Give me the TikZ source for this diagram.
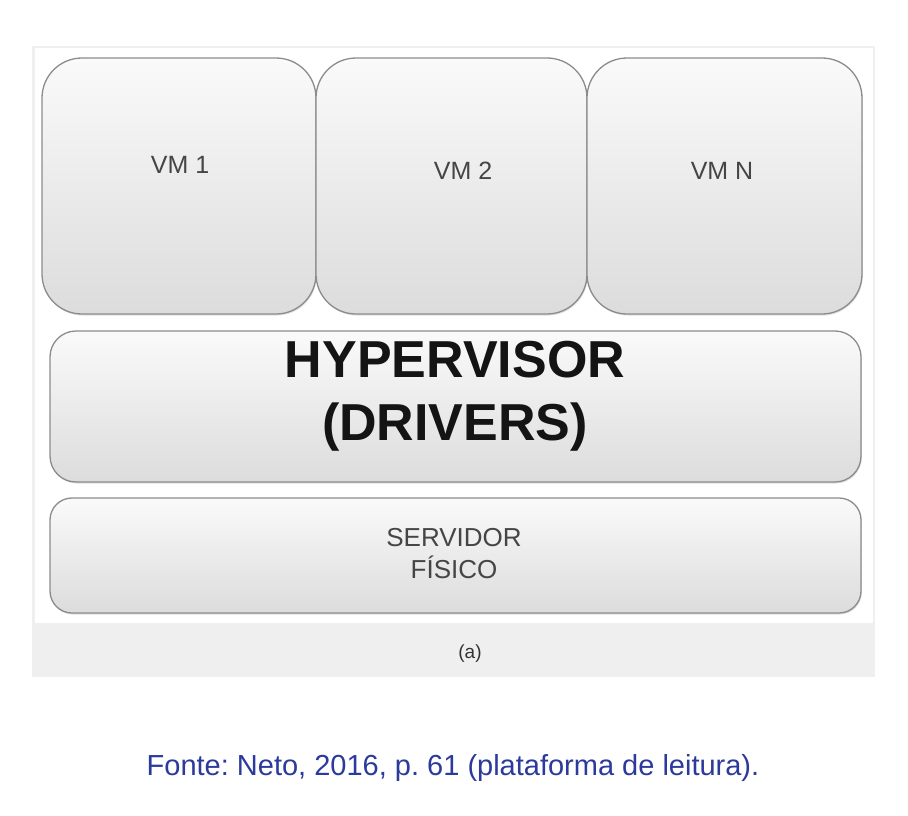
\documentclass[tikz,border=0pt]{standalone}
\usepackage{fontspec}
\setmainfont{Liberation Sans}
\usetikzlibrary{shadows}
\frenchspacing

\definecolor{boxedge}{HTML}{8C8C8C}
\definecolor{boxtop}{HTML}{FAFAFA}
\definecolor{boxbottom}{HTML}{DCDCDC}
\definecolor{labelgray}{HTML}{454545}
\definecolor{bandgray}{HTML}{EFEFEF}
\definecolor{fonteblue}{HTML}{2B3A9C}

\begin{document}
\begin{tikzpicture}[x=1pt,y=-1pt,
	layer/.style={draw=boxedge, line width=1.3pt, top color=boxtop, bottom color=boxbottom,
		drop shadow={opacity=0.25, shadow xshift=0.8pt, shadow yshift=-1.5pt}},
	vmlabel/.style={text=labelgray, font=\fontsize{25}{29}\selectfont}]
	\useasboundingbox (0,0) rectangle (908,816);
	\fill[white] (0,0) rectangle (908,816);
	\fill[bandgray] (32,46) rectangle (875,677);
	\fill[white] (35,48) rectangle (873,623);

	\draw[layer, rounded corners=40pt] (42,58) rectangle (316,314);
	\draw[layer, rounded corners=40pt] (316,58) rectangle (587,314);
	\draw[layer, rounded corners=40pt] (587,58) rectangle (862,314);
	\node (vm1) [vmlabel] at (180,165) {VM 1};
	\node (vm2) [vmlabel] at (463,171) {VM 2};
	\node (vmn) [vmlabel] at (722,171) {VM N};

	\draw[layer, rounded corners=26pt] (50,331) rectangle (861,482);
	\node (hyp) [align=center, text=black!92, font=\fontsize{52}{63}\selectfont\bfseries] at (455,396) {HYPERVISOR\\(DRIVERS)};

	\draw[layer, rounded corners=22pt] (50,498) rectangle (861,613);
	\node (srv) [align=center, text=labelgray, font=\fontsize{26}{32}\selectfont] at (454,554) {SERVIDOR\\FÍSICO};

	\node (sub) [text=black!80, font=\fontsize{19}{22}\selectfont] at (470,654) {(a)};

	\node (fonte) [text=fonteblue, font=\fontsize{29}{34}\selectfont] at (453,768) {Fonte: Neto, 2016, p. 61 (plataforma de leitura).};
\end{tikzpicture}
\end{document}
